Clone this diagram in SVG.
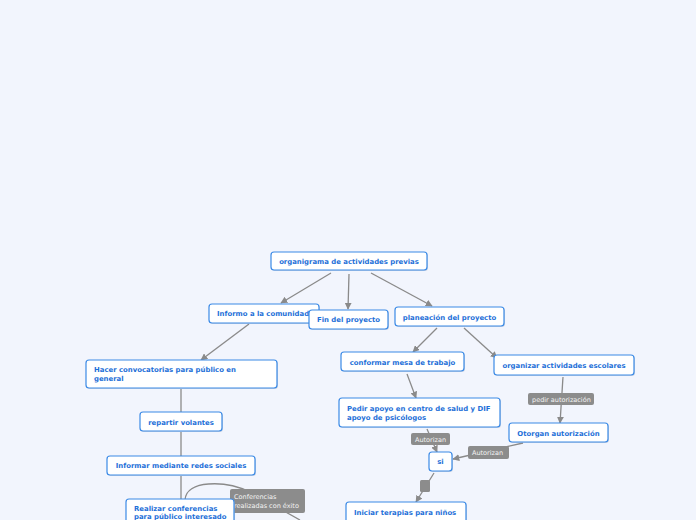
<svg xmlns="http://www.w3.org/2000/svg" width="696" height="520" viewBox="0 0 696 520">
<defs>
<marker id="ah" viewBox="0 0 10 10" refX="9" refY="5" markerWidth="7" markerHeight="7" orient="auto" markerUnits="userSpaceOnUse">
<path d="M0,0 L10,5 L0,10 z" fill="#8a8a8a"/>
</marker>
<style>
.bg{fill:#f2f5fd}
.n rect.s{fill:#b8c2d4;opacity:.6}
.n rect.b{fill:#fff;stroke:#3b8ae6;stroke-width:1.2}
.n text{font-family:"DejaVu Sans",Verdana,sans-serif;font-weight:bold;font-size:6.9px;fill:#1d6fd8}
.c path{fill:none;stroke:#8a8a8a;stroke-width:1.3}
.c path.a{marker-end:url(#ah)}
.l rect{fill:#8c8c8c}
.l text{font-family:"DejaVu Sans",Verdana,sans-serif;font-size:6.5px;fill:#f4f4f4}
</style>
</defs>
<rect class="bg" x="0" y="0" width="696" height="520"/>
<g id="connectors" class="c">
<path class="a" d="M331,273 L281,303"/>
<path class="a" d="M349,274 L348,309"/>
<path class="a" d="M371,273 L432,306"/>
<path class="a" d="M249,324 L201,360"/>
<path d="M181,389 L181,412"/>
<path d="M181,432 L181,456"/>
<path d="M181,476 L181,499"/>
<path d="M185,500 C186,480 225,480 250,492 L300,520"/>
<path class="a" d="M437,328 L413,352"/>
<path class="a" d="M464,328 L497,358"/>
<path class="a" d="M407,374 L416,398"/>
<path class="a" d="M563,377 L560,423"/>
<path class="a" d="M427,429 L437,452"/>
<path class="a" d="M523,443 L453,459"/>
<path class="a" d="M434,473 L416,502"/>
</g>
<g id="labels">
<g class="l"><rect x="528" y="393" width="66" height="12" rx="2"/><text x="532" y="401.5">pedir autorización</text></g>
<g class="l"><rect x="411" y="433" width="39" height="12" rx="2"/><text x="415" y="441.5">Autorizan</text></g>
<g class="l"><rect x="468" y="446" width="41" height="13" rx="2"/><text x="472" y="455">Autorizan</text></g>
<g class="l"><rect x="420" y="480" width="10" height="12" rx="1.5"/></g>
<g class="l"><rect x="230" y="489" width="75" height="24" rx="2"/><text x="234" y="499">Conferencias</text><text x="234" y="508">realizadas con éxito</text></g>
</g>
<g id="n-organigrama" class="n"><rect class="s" x="272" y="253" width="156" height="18" rx="3"/><rect class="b" x="271" y="252" width="156" height="18" rx="3"/><text x="349" y="263.5" text-anchor="middle">organigrama de actividades previas</text></g>
<g id="n-informo" class="n"><rect class="s" x="210" y="305" width="110" height="19" rx="3"/><rect class="b" x="209" y="304" width="110" height="19" rx="3"/><text x="217" y="316">Informo a la comunidad</text></g>
<g id="n-fin" class="n"><rect class="s" x="310" y="311" width="79" height="19" rx="3"/><rect class="b" x="309" y="310" width="79" height="19" rx="3"/><text x="348.5" y="322" text-anchor="middle">Fin del proyecto</text></g>
<g id="n-planeacion" class="n"><rect class="s" x="396" y="308" width="109" height="19" rx="3"/><rect class="b" x="395" y="307" width="109" height="19" rx="3"/><text x="449.5" y="319.5" text-anchor="middle">planeación del proyecto</text></g>
<g id="n-hacer" class="n"><rect class="s" x="87" y="361" width="191" height="28" rx="3"/><rect class="b" x="86" y="360" width="191" height="28" rx="3"/><text x="94" y="372">Hacer convocatorias para público en</text><text x="94" y="381">general</text></g>
<g id="n-repartir" class="n"><rect class="s" x="141" y="413" width="82" height="19" rx="3"/><rect class="b" x="140" y="412" width="82" height="19" rx="3"/><text x="181" y="424.5" text-anchor="middle">repartir volantes</text></g>
<g id="n-informar" class="n"><rect class="s" x="108" y="457" width="148" height="19" rx="3"/><rect class="b" x="107" y="456" width="148" height="19" rx="3"/><text x="181" y="468" text-anchor="middle">Informar mediante redes sociales</text></g>
<g id="n-realizar" class="n"><rect class="s" x="127" y="500" width="108" height="28" rx="3"/><rect class="b" x="126" y="499" width="108" height="28" rx="3"/><text x="134" y="511">Realizar conferencias</text><text x="134" y="518.5">para público interesado</text></g>
<g id="n-conformar" class="n"><rect class="s" x="342" y="353" width="123" height="19" rx="3"/><rect class="b" x="341" y="352" width="123" height="19" rx="3"/><text x="402.5" y="364.5" text-anchor="middle">conformar mesa de trabajo</text></g>
<g id="n-organizar" class="n"><rect class="s" x="495" y="356" width="140" height="20" rx="3"/><rect class="b" x="494" y="355" width="140" height="20" rx="3"/><text x="564" y="368" text-anchor="middle">organizar actividades escolares</text></g>
<g id="n-pedir" class="n"><rect class="s" x="340" y="399" width="161" height="29" rx="3"/><rect class="b" x="339" y="398" width="161" height="29" rx="3"/><text x="347" y="411">Pedir apoyo en centro de salud y DIF</text><text x="347" y="420">apoyo de psicólogos</text></g>
<g id="n-otorgan" class="n"><rect class="s" x="510" y="424" width="99" height="19" rx="3"/><rect class="b" x="509" y="423" width="99" height="19" rx="3"/><text x="558.5" y="435.5" text-anchor="middle">Otorgan autorización</text></g>
<g id="n-si" class="n"><rect class="s" x="430" y="453" width="23" height="19" rx="3"/><rect class="b" x="429" y="452" width="23" height="19" rx="3"/><text x="440.5" y="464" text-anchor="middle">si</text></g>
<g id="n-iniciar" class="n"><rect class="s" x="347" y="503" width="120" height="24" rx="3"/><rect class="b" x="346" y="502" width="120" height="24" rx="3"/><text x="354" y="514.5">Iniciar terapias para niños</text></g>
</svg>
